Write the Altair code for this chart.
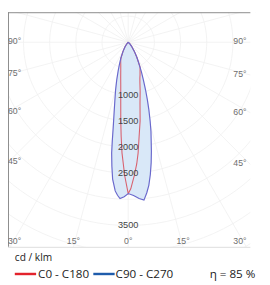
import altair as alt
import numpy as np
import pandas as pd

# ---- data (gamma in degrees, intensity in cd/klm) ----
c0_g = [0, 1, 2.6, 4, 5.1, 6.5, 8.6, 11, 13.6, 16, 18, 20, 22.5, 25.3, 30, 34, 40, 45, 50, 60, 90]
c0_i = [2890, 2800, 2550, 2330, 2125, 1830, 1520, 1180, 970, 810, 720, 660, 590, 530, 330, 210, 100, 45, 15, 0, 0]
c180_g = [0, 1.5, 3.2, 4.3, 5.4, 7, 8, 10, 12, 15, 18, 21, 24.5, 29.7, 35, 40, 45, 50, 60, 90]
c180_i = [2890, 2550, 2120, 1800, 1510, 1170, 1025, 820, 690, 550, 460, 400, 340, 200, 110, 50, 20, 5, 0, 0]
c90_g = [0, 2, 4, 5.7, 7, 8.2, 9.5, 10.8, 12, 13.2, 14.3, 15.5, 17, 18.4, 20, 21.8, 24, 26.5, 30, 34, 40, 45, 50, 60, 90]
c90_i = [2890, 2930, 2990, 3030, 2900, 2760, 2560, 2340, 2130, 1920, 1760, 1570, 1350, 1160, 970, 785, 620, 470, 330, 210, 100, 45, 15, 0, 0]
c270_g = [0, 1.5, 3, 4, 5, 6.5, 7.5, 8.5, 9.2, 10, 11.7, 13, 14.8, 17, 19.4, 22, 25, 29.7, 35, 40, 45, 50, 60, 90]
c270_i = [2890, 2950, 2990, 2930, 2850, 2630, 2390, 2140, 1900, 1650, 1310, 1130, 945, 750, 575, 440, 330, 200, 110, 50, 20, 5, 0, 0]

radial_ticks = [1000, 1500, 2000, 2500, 3500]
grid_radii = [500, 1000, 1500, 2000, 2500, 3000, 3500, 4000, 4500]
side_angles = [90, 75, 60, 45]
bottom_angles = [15, 0, -15]
corner_angle = 30
legend_names = ["C0 - C180", "C90 - C270"]
unit_text = "cd / klm"
eta_text = "η = 85 %"

# ---- geometry ----
W, H = 262, 277
CX, CY = 124, 31          # pole position in view pixels
K = 0.054                 # pixels per cd/klm
FR, FB = 250, 242         # frame right / bottom in view pixels

xdom = [-CX / K, (W - CX) / K]
ydom = [-(H - CY) / K, CY / K]
xs = alt.Scale(domain=xdom, nice=False, zero=False)
ys = alt.Scale(domain=ydom, nice=False, zero=False)
X = lambda f="x": alt.X(f"{f}:Q", scale=xs, axis=None)
Y = lambda f="y": alt.Y(f"{f}:Q", scale=ys, axis=None)


def half(g, i, side):
    g = np.radians(np.asarray(g, float))
    i = np.asarray(i, float)
    return side * i * np.sin(g), -i * np.cos(g)


def closed(gl, il, gr, ir):
    xl, yl = half(gl, il, -1)
    xr, yr = half(gr, ir, 1)
    x = np.concatenate([xl[::-1], xr])
    y = np.concatenate([yl[::-1], yr])
    return pd.DataFrame({"x": x, "y": y, "i": np.arange(len(x))})


red_df = closed(c180_g, c180_i, c0_g, c0_i)
blue_df = closed(c270_g, c270_i, c90_g, c90_i)

# grid
ang = np.radians(np.arange(0, 361, 3))
circ = pd.concat([pd.DataFrame({"x": r * np.sin(ang), "y": r * np.cos(ang), "r": r,
                                "i": np.arange(len(ang))}) for r in grid_radii])
spk = []
for a in range(0, 360, 15):
    t = np.radians(a)
    spk.append({"a": a, "i": 0, "x": 0.0, "y": 0.0})
    spk.append({"a": a, "i": 1, "x": 6000 * np.sin(t), "y": -6000 * np.cos(t)})
spk = pd.DataFrame(spk)

grid_col = "#efefef"
circles = alt.Chart(circ).mark_line(color=grid_col, strokeWidth=0.8, clip=True).encode(
    x=X(), y=Y(), detail="r:N", order="i:Q")
spokes = alt.Chart(spk).mark_line(color=grid_col, strokeWidth=0.8, clip=True).encode(
    x=X(), y=Y(), detail="a:N", order="i:Q")

one = pd.DataFrame({"k": [0]})
mask_b = alt.Chart(one).mark_rect(color="white").encode(
    x=alt.value(0), x2=alt.value(W), y=alt.value(FB), y2=alt.value(H))
mask_r = alt.Chart(one).mark_rect(color="white").encode(
    x=alt.value(FR), x2=alt.value(W), y=alt.value(0), y2=alt.value(FB))

fill = alt.Chart(blue_df).mark_line(fill="#d9e8f8", stroke="#d9e8f8", strokeWidth=0.5).encode(
    x=X(), y=Y(), order="i:Q")
red_line = alt.Chart(red_df).mark_line(color="#d8606e", strokeWidth=1.1).encode(
    x=X(), y=Y(), order="i:Q")
blue_line = alt.Chart(blue_df).mark_line(color="#6a68cc", strokeWidth=1.2).encode(
    x=X(), y=Y(), order="i:Q")

frame_top = alt.Chart(one).mark_rule(color="#8a8a8a", strokeWidth=1).encode(
    x=alt.value(0), x2=alt.value(FR), y=alt.value(0.5))
frame_left = alt.Chart(one).mark_rule(color="#8a8a8a", strokeWidth=1).encode(
    x=alt.value(0.5), y=alt.value(0), y2=alt.value(FB))
frame_bot = alt.Chart(one).mark_rule(color="#dddddd", strokeWidth=1).encode(
    x=alt.value(0), x2=alt.value(FR), y=alt.value(FB + 0.5))

# radial labels
rad_df = pd.DataFrame({"x": 0.0, "y": [-r for r in radial_ticks], "t": [str(r) for r in radial_ticks]})
rad_txt = alt.Chart(rad_df).mark_text(font="Liberation Sans", fontSize=9.5, color="#444444",
                                      baseline="middle", align="center").encode(
    x=X(), y=Y(), text="t:N")

# angle labels
EL = CX / K
ER = (FR - CX) / K
EB = (FB - CY) / K
cot = lambda a: np.cos(np.radians(a)) / np.sin(np.radians(a))
left_df = pd.DataFrame({"x": -EL, "y": [-EL * cot(a) for a in side_angles],
                        "t": [f"{a}°" for a in side_angles]})
right_df = pd.DataFrame({"x": ER, "y": [-ER * cot(a) for a in side_angles],
                         "t": [f"{a}°" for a in side_angles]})
bot_df = pd.DataFrame({"x": [EB * np.tan(np.radians(a)) for a in bottom_angles], "y": -EB,
                       "t": [f"{abs(a)}°" for a in bottom_angles]})
corner_l = pd.DataFrame({"x": [-EL], "y": [-EB], "t": [f"{corner_angle}°"]})
corner_r = pd.DataFrame({"x": [ER], "y": [-EB], "t": [f"{corner_angle}°"]})

lab = dict(font="Liberation Sans", fontSize=9, color="#6e6e6e", baseline="middle")
t_left = alt.Chart(left_df).mark_text(align="left", dx=0, dy=-1, **lab).encode(x=X(), y=Y(), text="t:N")
t_right = alt.Chart(right_df).mark_text(align="right", dx=-4, dy=-1, **lab).encode(x=X(), y=Y(), text="t:N")
t_bot = alt.Chart(bot_df).mark_text(align="center", dx=0, dy=-6, **lab).encode(x=X(), y=Y(), text="t:N")
t_cl = alt.Chart(corner_l).mark_text(align="left", dx=0, dy=-6, **lab).encode(x=X(), y=Y(), text="t:N")
t_cr = alt.Chart(corner_r).mark_text(align="right", dx=-4, dy=-6, **lab).encode(x=X(), y=Y(), text="t:N")

# legend
LY = 270
unit = alt.Chart(pd.DataFrame({"t": [unit_text]})).mark_text(
    font="Open Sans", fontSize=10.5, color="#222222", align="left", baseline="middle").encode(
    x=alt.value(7), y=alt.value(254), text="t:N")
seg_red = alt.Chart(one).mark_rule(color="#e3232c", strokeWidth=2.5).encode(
    x=alt.value(7), x2=alt.value(29), y=alt.value(LY))
seg_blue = alt.Chart(one).mark_rule(color="#1f5cab", strokeWidth=2.5).encode(
    x=alt.value(88), x2=alt.value(110), y=alt.value(LY))
leg_t = dict(font="Open Sans", fontSize=12, color="#222222", align="left", baseline="middle")
txt_red = alt.Chart(pd.DataFrame({"t": [legend_names[0]]})).mark_text(**leg_t).encode(
    x=alt.value(31), y=alt.value(LY), text="t:N")
txt_blue = alt.Chart(pd.DataFrame({"t": [legend_names[1]]})).mark_text(**leg_t).encode(
    x=alt.value(111), y=alt.value(LY), text="t:N")
txt_eta = alt.Chart(pd.DataFrame({"t": [eta_text]})).mark_text(**leg_t).encode(
    x=alt.value(208), y=alt.value(LY), text="t:N")

chart = alt.layer(
    circles, spokes, mask_b, mask_r, fill, red_line, blue_line,
    frame_top, frame_left, frame_bot,
    rad_txt, t_left, t_right, t_bot, t_cl, t_cr,
    unit, seg_red, seg_blue, txt_red, txt_blue, txt_eta,
).properties(width=W, height=H, autosize=alt.AutoSizeParams(type="none"), padding=0
).configure_view(stroke=None)

chart.save("out.html", embed_options={"renderer": "svg", "actions": False})
